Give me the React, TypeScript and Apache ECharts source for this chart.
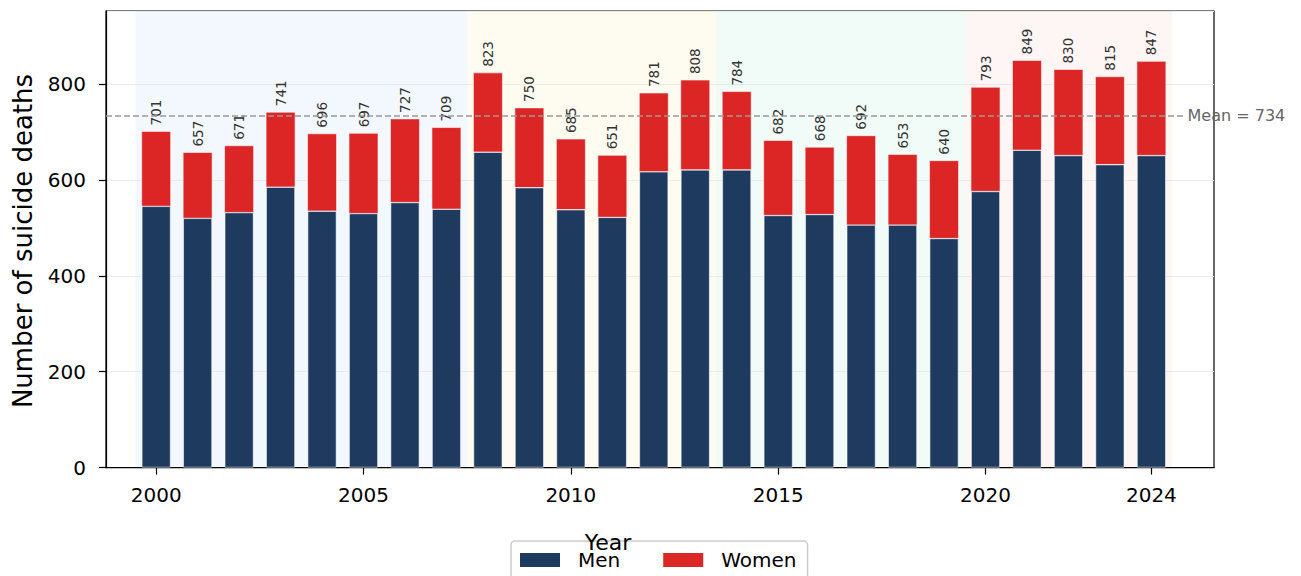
import React, { useEffect, useRef } from "react";
import * as echarts from "echarts";

const years = [2000, 2001, 2002, 2003, 2004, 2005, 2006, 2007, 2008, 2009, 2010, 2011, 2012, 2013, 2014, 2015, 2016, 2017, 2018, 2019, 2020, 2021, 2022, 2023, 2024];
const menDeaths = [545, 520, 532, 585, 535, 530, 553, 539, 658, 584, 538, 522, 617, 621, 621, 526, 528, 506, 506, 478, 576, 662, 651, 632, 651];
const totalDeaths = [701, 657, 671, 741, 696, 697, 727, 709, 823, 750, 685, 651, 781, 808, 784, 682, 668, 692, 653, 640, 793, 849, 830, 815, 847];
const womenDeaths = totalDeaths.map((t, i) => t - menDeaths[i]);
const periodStarts = [1999.5, 2007.5, 2013.5, 2019.5];
const periodEnds = [2007.5, 2013.5, 2019.5, 2024.5];
const xTickValues = [2000, 2005, 2010, 2015, 2020, 2024];

const periodColors = [
  "rgba(59,130,246,0.06)",
  "rgba(234,179,8,0.06)",
  "rgba(16,185,129,0.06)",
  "rgba(239,68,68,0.05)",
];
const FONT = "DejaVu Sans";
const BAR_W = 29;

export default function App() {
  const ref = useRef<HTMLDivElement>(null);
  useEffect(() => {
    if (!ref.current) return;
    const chart = echarts.init(ref.current, null, { renderer: "svg" });
    const meanVal = Math.round(totalDeaths.reduce((a, b) => a + b, 0) / totalDeaths.length);
    const xMin = 1998.79;
    const xMax = 2025.51;
    chart.setOption({
      animation: false,
      backgroundColor: "#ffffff",
      textStyle: { fontFamily: FONT },
      grid: {
        left: 106,
        top: 11,
        width: 1108,
        height: 456.6,
        show: true,
        borderColor: "#000",
        borderWidth: 1.2,
        backgroundColor: "transparent",
      },
      legend: {
        left: 511,
        top: 541,
        orient: "horizontal",
        itemWidth: 40,
        itemHeight: 14,
        itemGap: 43,
        padding: [9, 11, 9, 9],
        borderColor: "#cccccc",
        borderWidth: 1.5,
        borderRadius: 4,
        backgroundColor: "rgba(255,255,255,0.8)",
        icon: "rect",
        itemStyle: { borderWidth: 0 },
        textStyle: { fontSize: 20, color: "#000", fontFamily: FONT, padding: [0, 0, 0, 13] },
        data: ["Men", "Women"],
      },
      xAxis: {
        type: "value",
        min: xMin,
        max: xMax,
        axisLine: { show: true, lineStyle: { color: "#000", width: 1.2 } },
        axisTick: { show: true, length: 7, customValues: xTickValues, lineStyle: { color: "#000", width: 1.2 } },
        axisLabel: {
          customValues: xTickValues,
          fontSize: 20,
          color: "#000",
          fontFamily: FONT,
          margin: 17,
          formatter: (v: number) => String(v),
        },
        splitLine: { show: false },
      },
      yAxis: {
        type: "value",
        min: 0,
        max: 952,
        interval: 200,
        axisLine: { show: true, lineStyle: { color: "#000", width: 1.2 } },
        axisTick: { show: true, length: 7, lineStyle: { color: "#000", width: 1.2 } },
        axisLabel: { fontSize: 20, color: "#000", fontFamily: FONT, margin: 20, showMaxLabel: false },
        splitLine: { show: true, lineStyle: { color: "#eeeeee", width: 1 } },
      },
      graphic: [
        {
          type: "text",
          x: 23,
          y: 241,
          rotation: Math.PI / 2,
          z: 100,
          style: {
            text: "Number of suicide deaths",
            font: `26px '${FONT}'`,
            fill: "#000",
            align: "center",
            verticalAlign: "middle",
          },
        },
        {
          type: "text",
          x: 608,
          y: 542,
          z: 100,
          style: {
            text: "Year",
            font: `22px '${FONT}'`,
            fill: "#000",
            align: "center",
            verticalAlign: "middle",
          },
        },
      ],
      series: [
        {
          name: "Men",
          type: "bar",
          barWidth: BAR_W,
          itemStyle: { color: "#1f3a5f", borderColor: "rgba(255,255,255,0.7)", borderWidth: 0.8 },
          data: years.map((y, i) => [y, menDeaths[i]]),
          markArea: {
            silent: true,
            data: periodStarts.map((s, i) => [
              { xAxis: s, itemStyle: { color: periodColors[i] } },
              { xAxis: periodEnds[i] },
            ]),
          },
          markLine: {
            silent: true,
            symbol: ["none", "none"],
            lineStyle: { color: "#999999", type: [6, 3], width: 1.5 },
            label: {
              show: true,
              position: "end",
              distance: 3,
              formatter: `Mean = ${meanVal}`,
              fontSize: 16,
              color: "#666666",
              fontFamily: FONT,
            },
            data: [[{ coord: [xMin, meanVal] }, { coord: [2024.8, meanVal] }]],
          },
        },
        {
          name: "Women",
          type: "custom",
          itemStyle: { color: "#dc2626" },
          encode: { x: 0, y: 2 },
          data: years.map((y, i) => [y, menDeaths[i], menDeaths[i] + womenDeaths[i], womenDeaths[i]]),
          renderItem: (params: any, api: any) => {
            const x = api.value(0);
            const base = api.value(1);
            const top = api.value(2);
            const p0 = api.coord([x, base]);
            const p1 = api.coord([x, top]);
            const total = totalDeaths[params.dataIndex];
            return {
              type: "group",
              children: [
                {
                  type: "rect",
                  shape: { x: p0[0] - BAR_W / 2, y: p1[1], width: BAR_W, height: p0[1] - p1[1] },
                  style: { fill: api.visual("color"), stroke: "rgba(255,255,255,0.7)", lineWidth: 0.8 },
                },
                {
                  type: "text",
                  x: p1[0],
                  y: p1[1] - 6,
                  rotation: Math.PI / 2,
                  style: {
                    text: String(total),
                    font: `13.5px '${FONT}'`,
                    fill: "#333333",
                    align: "left",
                    verticalAlign: "middle",
                  },
                },
              ],
            };
          },
        },
      ],
    });
    return () => chart.dispose();
  }, []);
  return (
    <div
      ref={ref}
      style={{ position: "fixed", left: 0, top: 0, width: 1301, height: 576, background: "#fff" }}
    />
  );
}
